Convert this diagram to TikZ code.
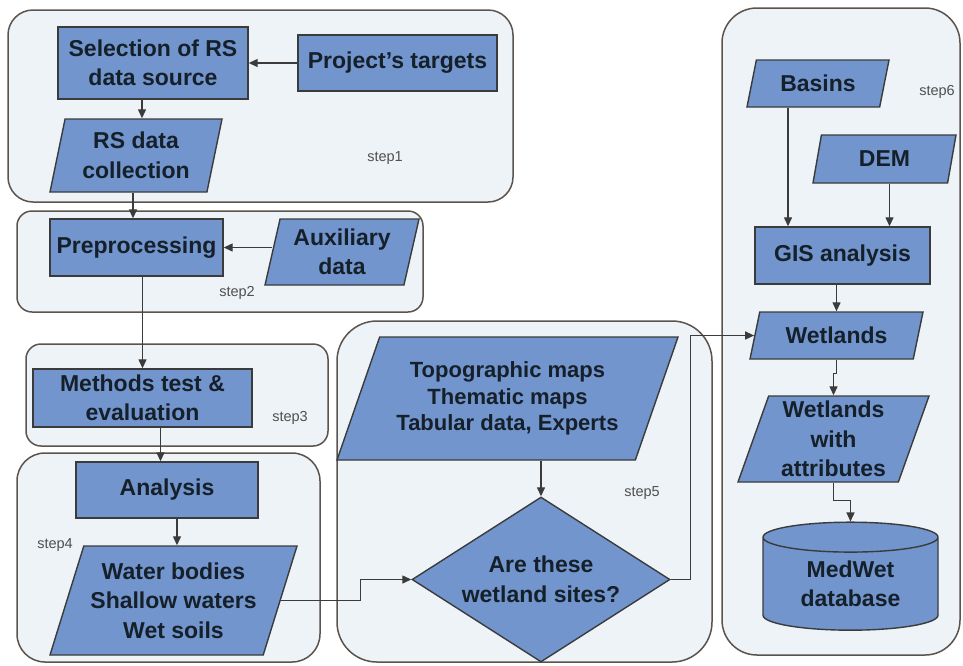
\documentclass[tikz,border=0pt]{standalone}
\usepackage{fontspec}
\setmainfont{Liberation Sans}
\usetikzlibrary{arrows.meta,positioning,shapes.geometric}
\definecolor{boxfill}{HTML}{7195CC}
\definecolor{boxline}{HTML}{3B3B3B}
\definecolor{framefill}{HTML}{EEF3F7}
\definecolor{frameline}{HTML}{5B534D}
\definecolor{inkdark}{HTML}{16202A}
\definecolor{labelgray}{HTML}{505050}
\tikzset{
  procbox/.style={draw=boxline, fill=boxfill, line width=1.4pt, align=center,
    inner sep=0pt, text=inkdark, font=\fontsize{23}{29.5}\selectfont\bfseries},
  iobox/.style={procbox, trapezium, trapezium stretches body, inner xsep=-30pt},
  decisionbox/.style={procbox, diamond},
  dbbox/.style={procbox, cylinder, shape border rotate=90},
  stepframe/.style={draw=frameline, fill=framefill, line width=1.5pt},
  steplabel/.style={font=\fontsize{14.5}{16}\selectfont, text=labelgray},
  arr/.style={-{Triangle[length=9pt,width=8pt]}, line width=1.3pt, draw=boxline}
}
\begin{document}
\begin{tikzpicture}[x=1pt,y=-1pt]
  \useasboundingbox[fill=white] (0,0) rectangle (963,665);
  % step frames
  \draw[stepframe, rounded corners=25pt] (8,10) rectangle (513,202);
  \draw[stepframe, rounded corners=15pt] (17,211) rectangle (423,312);
  \draw[stepframe, rounded corners=15pt] (26,344) rectangle (328,446);
  \draw[stepframe, rounded corners=28pt] (17,453) rectangle (320,662);
  \draw[stepframe, rounded corners=40pt] (337,321) rectangle (712,662);
  \draw[stepframe, rounded corners=35pt] (722,8) rectangle (960,655);
  \node[steplabel] (lab1) at (385,158) {step1};
  \node[steplabel] (lab2) at (237,293) {step2};
  \node[steplabel] (lab3) at (290,418) {step3};
  \node[steplabel] (lab4) at (55,545) {step4};
  \node[steplabel] (lab5) at (642,493) {step5};
  \node[steplabel] (lab6) at (937,92) {step6};
  % left column
  \node[procbox, minimum width=190pt, minimum height=72pt] (sel) at (153,63) {Selection of RS\\data source};
  \node[procbox, minimum width=199pt, minimum height=56pt] (proj) at (397.5,63) {Project’s targets};
  \node[iobox, minimum width=172pt, minimum height=73pt, trapezium left angle=72, trapezium right angle=108] (rscoll) at (136,155.5) {RS data\\collection};
  \node[procbox, minimum width=173pt, minimum height=57pt] (prep) at (136.5,247.5) {Preprocessing};
  \node[iobox, minimum width=154pt, minimum height=66pt, trapezium left angle=72, trapezium right angle=108] (aux) at (342,252) {Auxiliary\\data};
  \node[procbox, minimum width=219pt, minimum height=58pt] (meth) at (142.5,398) {Methods test \&\\evaluation};
  \node[procbox, minimum width=182pt, minimum height=56pt] (anal) at (167,490) {Analysis};
  \node[iobox, minimum width=247pt, minimum height=109pt, trapezium left angle=66, trapezium right angle=114] (water) at (173.5,600.5) {Water bodies\\Shallow waters\\Wet soils};
  % middle
  \node[iobox, minimum width=341pt, minimum height=123pt, trapezium left angle=60, trapezium right angle=120,
    font=\fontsize{22}{26.7}\selectfont\bfseries] (topo) at (507.5,398.5) {Topographic maps\\Thematic maps\\Tabular data, Experts};
  \node[decisionbox, aspect=1.56, minimum width=258pt, minimum height=165pt] (dia) at (541,579.5) {Are these\\wetland sites?};
  % right column
  \node[iobox, minimum width=142pt, minimum height=47pt, trapezium left angle=61, trapezium right angle=119] (basins) at (818,83.5) {Basins};
  \node[iobox, minimum width=143pt, minimum height=48pt, trapezium left angle=62, trapezium right angle=118] (dem) at (884.5,159) {DEM};
  \node[procbox, minimum width=175pt, minimum height=57pt] (gis) at (842.5,255.5) {GIS analysis};
  \node[iobox, minimum width=173pt, minimum height=47pt, trapezium left angle=60, trapezium right angle=120] (wetl) at (836.5,335.5) {Wetlands};
  \node[iobox, minimum width=191pt, minimum height=86pt, trapezium left angle=68, trapezium right angle=112] (wwa) at (833.5,439) {Wetlands\\with\\attributes};
  \node[dbbox, aspect=0.3, minimum width=175pt, minimum height=108pt] (db) at (850.5,584) {MedWet\\database};
  % connectors
  \draw[arr] (proj) -- (sel);
  \draw[arr] ([xshift=-11pt]sel.south) -- ([xshift=-11pt]sel.south |- rscoll.north);
  \draw[arr] ([xshift=-3pt]rscoll.south) -- ([xshift=-3pt]rscoll.south |- prep.north);
  \draw[arr] (prep.east -| aux.west) -- (prep.east);
  \draw[arr] (meth.north |- prep.south) -- (meth.north);
  \draw[arr] ([xshift=18pt]meth.south) -- ([xshift=18pt]meth.south |- anal.north);
  \draw[arr] ([xshift=10pt]anal.south) -- ([xshift=10pt]anal.south |- water.north);
  \draw[arr] (water.east) -- ++(80,0) |- (dia.west);
  \draw[arr] (dia.north |- topo.south) -- (dia.north);
  \draw[arr] (dia.east) -- ++(20,0) |- (wetl.west);
  \draw[arr] ([xshift=-30pt]basins.south) -- ([xshift=-30pt]basins.south |- gis.north);
  \draw[arr] ([xshift=5pt]dem.south) -- ([xshift=5pt]dem.south |- gis.north);
  \draw[arr] (wetl.north |- gis.south) -- (wetl.north);
  \draw[arr] (wetl.south) -- ++(0,14) -| (wwa.north);
  \draw[arr] (wwa.south) -- ++(0,18) -| (db.north);
\end{tikzpicture}
\end{document}
